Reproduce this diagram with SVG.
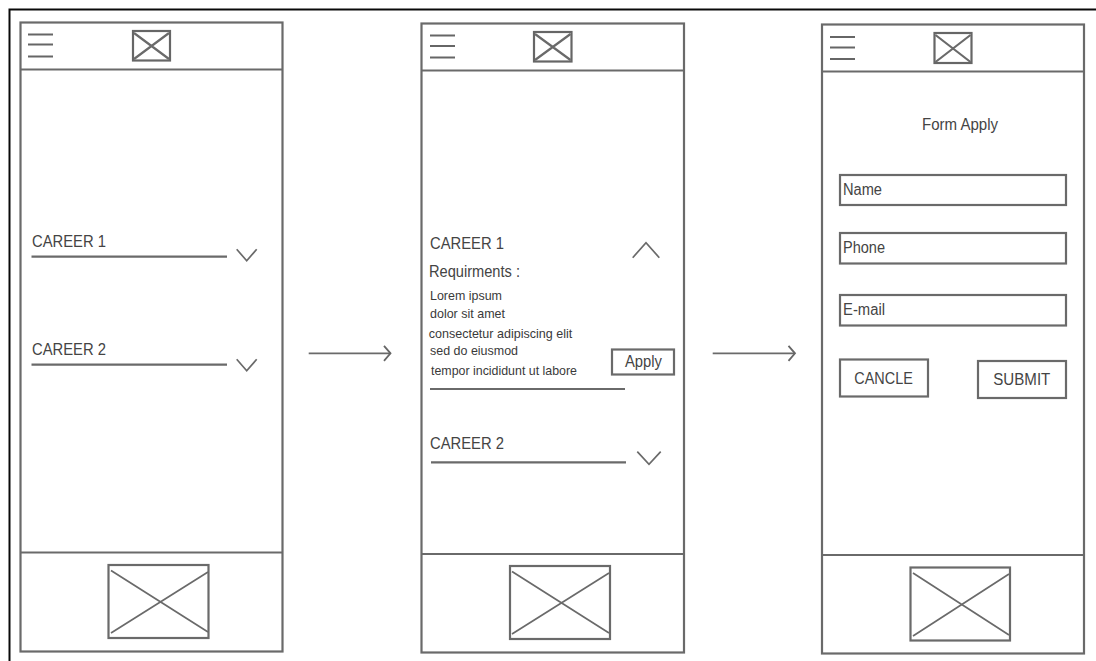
<svg xmlns="http://www.w3.org/2000/svg" width="1096" height="661" viewBox="0 0 1096 661">
<style>
.f{fill:none;stroke:#6a6a6a;stroke-width:2.2}
.t{fill:none;stroke:#6a6a6a;stroke-width:1.7}
.m{fill:none;stroke:#666;stroke-width:2.2}
text{font-family:"Liberation Sans",Arial,sans-serif;fill:#444;font-size:16px}
.s{font-size:13px;fill:#3a3a3a}
</style>
<defs>
<marker id="arrow" markerUnits="userSpaceOnUse" markerWidth="20" markerHeight="20" refX="14" refY="10" orient="auto" overflow="visible">
<path d="M7.5 2.5L14 10L7.5 17.5" fill="none" stroke="#666" stroke-width="1.8"/>
</marker>
</defs>
<rect width="1096" height="661" fill="#fff"/>
<path id="frame" d="M9.5 661V9.5H1096" fill="none" stroke="#0a0a0a" stroke-width="2"/>
<g id="screen-1">
<rect class="f" x="20.5" y="22.5" width="262" height="629"/>
<path class="f" d="M20.5 69.500H282.500M20.500 552.500H282.500"/>
<path class="m" d="M28 34.500H53M28 44.500H53M28 56.500H53"/>
<rect class="m" x="133" y="31" width="37" height="29.500"/>
<path class="f" d="M134 33L169 59M134 59L169 33"/>
<rect class="f" x="108.500" y="565" width="100" height="73"/>
<path class="t" d="M111 570.500L208 632M111 633L208 572"/>
<text x="32" y="246.500" textLength="74" lengthAdjust="spacingAndGlyphs">CAREER 1</text>
<path class="f" d="M31.500 256.700H227"/>
<path class="t" d="M236.700 249.300L246.700 260.700L256.700 249.300"/>
<text x="32" y="355" textLength="74" lengthAdjust="spacingAndGlyphs">CAREER 2</text>
<path class="f" d="M31.500 364.700H227"/>
<path class="t" d="M236.700 359.300L246.700 370.700L256.700 359.300"/>
</g>
<g id="screen-2">
<rect class="f" x="421.500" y="23.500" width="262.500" height="629"/>
<path class="f" d="M421.500 70.500H684M421.500 554H684"/>
<path class="m" d="M430 35.500H455M430 46H455M430 57.500H455"/>
<rect class="m" x="534" y="32" width="37.500" height="29.500"/>
<path class="f" d="M535 34L570.500 60M535 60L570.500 34"/>
<rect class="f" x="510" y="566" width="100" height="73"/>
<path class="t" d="M512 571.500L609 633M512 634L609 573"/>
<text x="430" y="249.300" textLength="74" lengthAdjust="spacingAndGlyphs">CAREER 1</text>
<path class="t" d="M632.700 257.700L646 242.700L659.300 257.700"/>
<text x="429" y="277.300" textLength="91" lengthAdjust="spacingAndGlyphs">Requirments :</text>
<text class="s" x="430" y="300" textLength="72" lengthAdjust="spacingAndGlyphs">Lorem ipsum</text>
<text class="s" x="430" y="317.700" textLength="75" lengthAdjust="spacingAndGlyphs">dolor sit amet</text>
<text class="s" x="428.700" y="338" textLength="143.500" lengthAdjust="spacingAndGlyphs">consectetur adipiscing elit</text>
<text class="s" x="430" y="355" textLength="88" lengthAdjust="spacingAndGlyphs">sed do eiusmod</text>
<text class="s" x="431" y="375" textLength="146" lengthAdjust="spacingAndGlyphs">tempor incididunt ut labore</text>
<g id="apply-button">
<rect class="f" x="612" y="349.500" width="62" height="25"/>
<text x="625" y="366.700" textLength="37" lengthAdjust="spacingAndGlyphs">Apply</text>
</g>
<path class="f" d="M430 389H625"/>
<text x="430" y="449.300" textLength="74" lengthAdjust="spacingAndGlyphs">CAREER 2</text>
<path class="f" d="M431 462.300H626"/>
<path class="t" d="M637.300 451.700L649 464.300L660.700 451.700"/>
</g>
<g id="screen-3">
<rect class="f" x="822" y="24.500" width="262" height="629"/>
<path class="f" d="M822 71.500H1084M822 555H1084"/>
<path class="m" d="M830 37H855M830 47.500H855M830 59H855"/>
<rect class="m" x="934.500" y="33" width="37" height="30"/>
<path class="f" d="M935.500 35L970.500 62M935.500 62L970.500 35"/>
<rect class="f" x="910.500" y="567.500" width="99.500" height="73"/>
<path class="t" d="M913 573L1009 635M913 636L1009 574"/>
<text x="922" y="130" textLength="76" lengthAdjust="spacingAndGlyphs">Form Apply</text>
<g id="field-name">
<rect class="f" x="840" y="175" width="226" height="30"/>
<text x="843" y="194.700" textLength="39" lengthAdjust="spacingAndGlyphs">Name</text>
</g>
<g id="field-phone">
<rect class="f" x="840" y="233" width="226" height="30.500"/>
<text x="843" y="252.700" textLength="42" lengthAdjust="spacingAndGlyphs">Phone</text>
</g>
<g id="field-email">
<rect class="f" x="840" y="295" width="226" height="30.500"/>
<text x="843" y="315.300" textLength="42" lengthAdjust="spacingAndGlyphs">E-mail</text>
</g>
<g id="cancel-button">
<rect class="f" x="840" y="359.500" width="88" height="37"/>
<text x="854.300" y="383.700" textLength="58.500" lengthAdjust="spacingAndGlyphs">CANCLE</text>
</g>
<g id="submit-button">
<rect class="f" x="978" y="361" width="88" height="37"/>
<text x="993.300" y="385" textLength="57" lengthAdjust="spacingAndGlyphs">SUBMIT</text>
</g>
</g>
<g id="connectors">
<path class="t" d="M308.700 353.300H390.500" marker-end="url(#arrow)"/>
<path class="t" d="M712.700 353.300H795" marker-end="url(#arrow)"/>
</g>
</svg>
